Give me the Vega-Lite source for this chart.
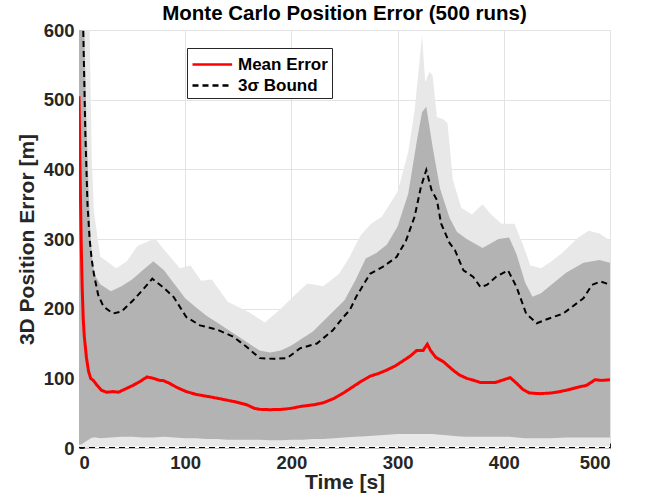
{
  "$schema": "https://vega.github.io/schema/vega-lite/v6.json",
  "width": 531,
  "height": 418,
  "autosize": {"type": "none"},
  "padding": {"left": 79, "top": 30, "right": 37, "bottom": 52},
  "background": "white",
  "title": {"text": "Monte Carlo Position Error (500 runs)", "font": "Liberation Sans", "fontSize": 20.5, "fontWeight": "bold", "color": "#000000", "baseline": "alphabetic", "offset": -19},
  "config": {
    "view": {"stroke": "#d6d6d6"},
    "axis": {
      "labelFont": "Liberation Sans", "labelFontWeight": "bold", "labelFontSize": 18.5, "labelColor": "#262626",
      "titleFont": "Liberation Sans", "titleFontWeight": "bold", "titleFontSize": 21, "titleColor": "#262626",
      "gridColor": "#e3e3e3", "gridWidth": 1, "domainColor": "#bdbdbd", "tickColor": "#262626", "tickSize": -5, "labelPadding": 10
    }
  },
  "datasets": {
    "light": [
      {"t":0,"lo":0,"hi":600},{"t":10,"lo":0,"hi":600},{"t":12,"lo":0,"hi":420},{"t":14,"lo":1,"hi":340},{"t":20,"lo":2,"hi":275},
      {"t":35,"lo":2,"hi":258},{"t":45,"lo":2,"hi":268},{"t":55,"lo":2,"hi":290},{"t":67,"lo":2,"hi":298},{"t":72,"lo":2,"hi":300},
      {"t":80,"lo":2,"hi":285},{"t":95,"lo":2,"hi":258},{"t":105,"lo":2,"hi":262},{"t":115,"lo":2,"hi":240},{"t":125,"lo":2,"hi":242},
      {"t":140,"lo":2,"hi":210},{"t":160,"lo":2,"hi":195},{"t":175,"lo":2,"hi":180},{"t":190,"lo":2,"hi":200},{"t":205,"lo":2,"hi":222},
      {"t":215,"lo":2,"hi":236},{"t":230,"lo":2,"hi":232},{"t":245,"lo":2,"hi":250},{"t":255,"lo":2,"hi":275},{"t":265,"lo":2,"hi":305},
      {"t":275,"lo":2,"hi":322},{"t":285,"lo":2,"hi":332},{"t":300,"lo":2,"hi":368},{"t":310,"lo":2,"hi":425},{"t":316,"lo":2,"hi":485},
      {"t":320,"lo":2,"hi":545},{"t":323,"lo":2,"hi":592},{"t":326,"lo":2,"hi":525},{"t":330,"lo":2,"hi":540},{"t":333,"lo":2,"hi":535},
      {"t":337,"lo":2,"hi":475},{"t":343,"lo":2,"hi":472},{"t":347,"lo":2,"hi":466},{"t":352,"lo":2,"hi":385},{"t":360,"lo":2,"hi":345},
      {"t":370,"lo":2,"hi":335},{"t":380,"lo":2,"hi":350},{"t":388,"lo":2,"hi":335},{"t":398,"lo":2,"hi":322},{"t":410,"lo":2,"hi":322},
      {"t":418,"lo":2,"hi":292},{"t":425,"lo":2,"hi":262},{"t":435,"lo":2,"hi":258},{"t":445,"lo":2,"hi":268},{"t":455,"lo":2,"hi":280},
      {"t":470,"lo":2,"hi":302},{"t":480,"lo":2,"hi":312},{"t":490,"lo":2,"hi":308},{"t":500,"lo":2,"hi":298}
    ],
    "dense": [
      {"t":0,"lo":5,"hi":600},{"t":2,"lo":5,"hi":600},{"t":5,"lo":8,"hi":600},{"t":7,"lo":10,"hi":470},{"t":9,"lo":12,"hi":370},
      {"t":11,"lo":14,"hi":300},{"t":13,"lo":15,"hi":262},{"t":16,"lo":15,"hi":245},{"t":20,"lo":14,"hi":235},{"t":30,"lo":15,"hi":225},
      {"t":40,"lo":16,"hi":232},{"t":50,"lo":16,"hi":242},{"t":60,"lo":15,"hi":255},{"t":70,"lo":15,"hi":268},{"t":80,"lo":16,"hi":255},
      {"t":90,"lo":15,"hi":235},{"t":100,"lo":14,"hi":215},{"t":110,"lo":14,"hi":202},{"t":120,"lo":13,"hi":190},{"t":130,"lo":13,"hi":180},
      {"t":140,"lo":12,"hi":170},{"t":150,"lo":12,"hi":160},{"t":160,"lo":12,"hi":150},{"t":170,"lo":12,"hi":140},{"t":180,"lo":11,"hi":137},
      {"t":190,"lo":11,"hi":140},{"t":200,"lo":12,"hi":147},{"t":210,"lo":12,"hi":157},{"t":220,"lo":13,"hi":167},{"t":230,"lo":13,"hi":182},
      {"t":240,"lo":14,"hi":197},{"t":250,"lo":15,"hi":212},{"t":260,"lo":16,"hi":240},{"t":270,"lo":17,"hi":272},{"t":280,"lo":18,"hi":280},
      {"t":290,"lo":19,"hi":292},{"t":300,"lo":20,"hi":318},{"t":310,"lo":20,"hi":365},{"t":318,"lo":20,"hi":440},{"t":323,"lo":20,"hi":482},
      {"t":327,"lo":20,"hi":490},{"t":333,"lo":20,"hi":432},{"t":340,"lo":19,"hi":372},{"t":349,"lo":18,"hi":330},{"t":356,"lo":17,"hi":310},
      {"t":365,"lo":16,"hi":300},{"t":380,"lo":16,"hi":287},{"t":395,"lo":16,"hi":300},{"t":405,"lo":16,"hi":302},{"t":412,"lo":15,"hi":278},
      {"t":420,"lo":14,"hi":238},{"t":427,"lo":14,"hi":217},{"t":435,"lo":14,"hi":222},{"t":443,"lo":14,"hi":232},{"t":459,"lo":15,"hi":252},
      {"t":475,"lo":15,"hi":266},{"t":490,"lo":15,"hi":270},{"t":500,"lo":15,"hi":266}
    ],
    "bound": [
      {"t":2,"v":900,"series":"3σ Bound","part":"upper"},{"t":4,"v":600,"series":"3σ Bound","part":"upper"},{"t":6,"v":450,"series":"3σ Bound","part":"upper"},
      {"t":8,"v":350,"series":"3σ Bound","part":"upper"},{"t":10,"v":300,"series":"3σ Bound","part":"upper"},{"t":12,"v":270,"series":"3σ Bound","part":"upper"},
      {"t":14,"v":250,"series":"3σ Bound","part":"upper"},{"t":18,"v":220,"series":"3σ Bound","part":"upper"},{"t":23,"v":203,"series":"3σ Bound","part":"upper"},
      {"t":32,"v":193,"series":"3σ Bound","part":"upper"},{"t":40,"v":196,"series":"3σ Bound","part":"upper"},{"t":51,"v":212,"series":"3σ Bound","part":"upper"},
      {"t":60,"v":227,"series":"3σ Bound","part":"upper"},{"t":69,"v":243,"series":"3σ Bound","part":"upper"},{"t":74,"v":237,"series":"3σ Bound","part":"upper"},
      {"t":79,"v":231,"series":"3σ Bound","part":"upper"},{"t":89,"v":217,"series":"3σ Bound","part":"upper"},{"t":101,"v":188,"series":"3σ Bound","part":"upper"},
      {"t":114,"v":176,"series":"3σ Bound","part":"upper"},{"t":130,"v":170,"series":"3σ Bound","part":"upper"},{"t":145,"v":160,"series":"3σ Bound","part":"upper"},
      {"t":158,"v":145,"series":"3σ Bound","part":"upper"},{"t":170,"v":129,"series":"3σ Bound","part":"upper"},{"t":183,"v":128,"series":"3σ Bound","part":"upper"},
      {"t":196,"v":129,"series":"3σ Bound","part":"upper"},{"t":208,"v":143,"series":"3σ Bound","part":"upper"},{"t":224,"v":150,"series":"3σ Bound","part":"upper"},
      {"t":239,"v":169,"series":"3σ Bound","part":"upper"},{"t":249,"v":188,"series":"3σ Bound","part":"upper"},{"t":255,"v":198,"series":"3σ Bound","part":"upper"},
      {"t":261,"v":217,"series":"3σ Bound","part":"upper"},{"t":274,"v":250,"series":"3σ Bound","part":"upper"},{"t":286,"v":260,"series":"3σ Bound","part":"upper"},
      {"t":299,"v":274,"series":"3σ Bound","part":"upper"},{"t":308,"v":298,"series":"3σ Bound","part":"upper"},{"t":316,"v":332,"series":"3σ Bound","part":"upper"},
      {"t":322,"v":375,"series":"3σ Bound","part":"upper"},{"t":327,"v":399,"series":"3σ Bound","part":"upper"},{"t":332,"v":370,"series":"3σ Bound","part":"upper"},
      {"t":337,"v":356,"series":"3σ Bound","part":"upper"},{"t":341,"v":322,"series":"3σ Bound","part":"upper"},{"t":349,"v":294,"series":"3σ Bound","part":"upper"},
      {"t":354,"v":284,"series":"3σ Bound","part":"upper"},{"t":362,"v":255,"series":"3σ Bound","part":"upper"},{"t":371,"v":246,"series":"3σ Bound","part":"upper"},
      {"t":378,"v":231,"series":"3σ Bound","part":"upper"},{"t":384,"v":234,"series":"3σ Bound","part":"upper"},{"t":393,"v":246,"series":"3σ Bound","part":"upper"},
      {"t":404,"v":255,"series":"3σ Bound","part":"upper"},{"t":412,"v":231,"series":"3σ Bound","part":"upper"},{"t":421,"v":193,"series":"3σ Bound","part":"upper"},
      {"t":431,"v":179,"series":"3σ Bound","part":"upper"},{"t":439,"v":184,"series":"3σ Bound","part":"upper"},{"t":456,"v":193,"series":"3σ Bound","part":"upper"},
      {"t":475,"v":215,"series":"3σ Bound","part":"upper"},{"t":483,"v":234,"series":"3σ Bound","part":"upper"},{"t":491,"v":239,"series":"3σ Bound","part":"upper"},
      {"t":497,"v":236,"series":"3σ Bound","part":"upper"},{"t":500,"v":235,"series":"3σ Bound","part":"upper"},
      {"t":0,"v":0,"series":"3σ Bound","part":"lower"},{"t":500,"v":0,"series":"3σ Bound","part":"lower"}
    ],
    "mean": [
      {"t":0,"v":505},{"t":1,"v":400},{"t":2,"v":300},{"t":3,"v":230},{"t":4,"v":185},{"t":5,"v":160},{"t":7,"v":130},{"t":9,"v":110},
      {"t":11,"v":100},{"t":13.5,"v":97},{"t":17,"v":90},{"t":21,"v":83},{"t":26,"v":80},{"t":32,"v":81},{"t":37,"v":80},{"t":44,"v":85},
      {"t":51,"v":90},{"t":58,"v":96},{"t":64,"v":102},{"t":70,"v":100},{"t":76,"v":97},{"t":79,"v":97},{"t":85,"v":93},{"t":92,"v":87},
      {"t":101,"v":81},{"t":110,"v":77},{"t":123,"v":73.5},{"t":135,"v":70},{"t":148,"v":66},{"t":158,"v":62},{"t":165,"v":57},{"t":170,"v":55.5},
      {"t":180,"v":55},{"t":192,"v":55.5},{"t":200,"v":57},{"t":210,"v":60},{"t":221,"v":62},{"t":230,"v":65},{"t":240,"v":71},{"t":250,"v":80},
      {"t":258,"v":88},{"t":266,"v":96},{"t":274,"v":103},{"t":282,"v":107},{"t":290,"v":112},{"t":298,"v":118},{"t":305,"v":125},{"t":312,"v":132},
      {"t":318,"v":140},{"t":324,"v":140},{"t":328,"v":149},{"t":331,"v":140},{"t":336,"v":130},{"t":343,"v":124},{"t":352,"v":112},{"t":358,"v":105},
      {"t":365,"v":100},{"t":372,"v":97},{"t":378,"v":94},{"t":385,"v":94},{"t":392,"v":94},{"t":400,"v":98},{"t":406,"v":101},{"t":412,"v":93},
      {"t":418,"v":84},{"t":424,"v":79},{"t":434,"v":78},{"t":445,"v":79},{"t":453,"v":81},{"t":462,"v":84},{"t":469,"v":87},{"t":478,"v":90},
      {"t":486,"v":98},{"t":492,"v":97},{"t":500,"v":98}
    ]
  },
  "layer": [
    {
      "data": {"name": "light"},
      "mark": {"type": "area", "color": "#e8e8e8", "clip": true},
      "encoding": {
        "x": {"field": "t", "type": "quantitative", "scale": {"domain": [0, 500], "nice": false}, "axis": {"title": "Time [s]", "values": [0, 100, 200, 300, 400, 500], "titlePadding": 0}},
        "y": {"field": "hi", "type": "quantitative", "scale": {"domain": [0, 600], "nice": false}, "axis": {"title": "3D Position Error [m]", "values": [0, 100, 200, 300, 400, 500, 600], "titlePadding": 6}},
        "y2": {"field": "lo"}
      }
    },
    {
      "data": {"name": "dense"},
      "mark": {"type": "area", "color": "#b3b3b3", "clip": true},
      "encoding": {
        "x": {"field": "t", "type": "quantitative"},
        "y": {"field": "hi", "type": "quantitative"},
        "y2": {"field": "lo"}
      }
    },
    {
      "data": {"name": "bound"},
      "mark": {"type": "line", "strokeWidth": 2, "clip": true},
      "encoding": {
        "x": {"field": "t", "type": "quantitative"},
        "y": {"field": "v", "type": "quantitative"},
        "detail": {"field": "part"},
        "color": {"field": "series", "type": "nominal", "scale": {"domain": ["Mean Error", "3σ Bound"], "range": ["#ff0000", "#000000"]},
          "legend": {"orient": "none", "legendX": 108, "legendY": 18, "title": null, "symbolType": "M-1,0H2.6", "symbolSize": 484, "symbolStrokeWidth": 2.5, "symbolFillColor": "transparent",
            "labelFont": "Liberation Sans", "labelFontWeight": "bold", "labelFontSize": 17, "labelColor": "#000000", "labelOffset": 22,
            "strokeColor": "#262626", "fillColor": "white", "padding": 4, "rowPadding": 0}},
        "strokeDash": {"field": "series", "type": "nominal", "scale": {"domain": ["Mean Error", "3σ Bound"], "range": [[1, 0], [6, 4]]},
          "legend": {"orient": "none", "legendX": 108, "legendY": 18, "title": null, "symbolType": "M-1,0H2.6", "symbolSize": 484, "symbolStrokeWidth": 2.5, "symbolFillColor": "transparent",
            "labelFont": "Liberation Sans", "labelFontWeight": "bold", "labelFontSize": 17, "labelColor": "#000000", "labelOffset": 22,
            "strokeColor": "#262626", "fillColor": "white", "padding": 4, "rowPadding": 0}}
      }
    },
    {
      "data": {"name": "mean"},
      "transform": [{"calculate": "'Mean Error'", "as": "series"}],
      "mark": {"type": "line", "strokeWidth": 3, "clip": true},
      "encoding": {
        "x": {"field": "t", "type": "quantitative"},
        "y": {"field": "v", "type": "quantitative"},
        "color": {"field": "series", "type": "nominal"},
        "strokeDash": {"field": "series", "type": "nominal"}
      }
    }
  ]
}
